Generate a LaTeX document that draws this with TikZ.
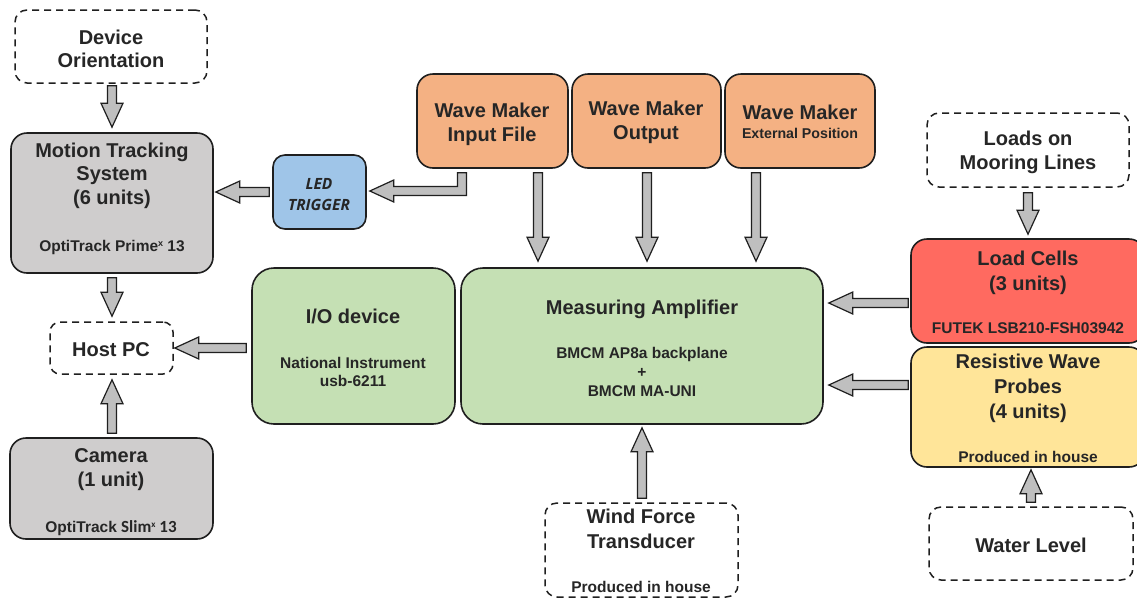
\documentclass[tikz,border=0pt]{standalone}
\usepackage{fontspec}
\setmainfont{Liberation Sans}
\newfontfamily\osans{Open Sans}
\newfontfamily\carlito{Carlito}
\usetikzlibrary{calc}
\definecolor{txt}{HTML}{262626}
\definecolor{edge}{HTML}{1F1F1F}
\definecolor{grayfill}{HTML}{CFCDCD}
\definecolor{greenfill}{HTML}{C5E0B4}
\definecolor{orangefill}{HTML}{F4B183}
\definecolor{redfill}{HTML}{FF6A60}
\definecolor{yellowfill}{HTML}{FFE599}
\definecolor{bluefill}{HTML}{9FC5E8}
\definecolor{arrowfill}{HTML}{BFBFBF}
\tikzset{
  box/.style={draw=edge,line width=1.6pt,rounded corners=16pt,inner sep=0pt},
  dbox/.style={draw=edge,line width=1.5pt,dash pattern=on 7pt off 5pt,rounded corners=12pt,inner sep=0pt},
  big/.style={font=\fontsize{20}{24}\selectfont\bfseries,text=txt,anchor=base,inner sep=0pt},
  small/.style={font=\fontsize{15.5}{18}\selectfont\bfseries,text=txt,anchor=base,inner sep=0pt},
  ledtext/.style={font=\osans\bfseries\itshape\fontsize{15.5}{18}\selectfont,text=txt,anchor=base,inner sep=0pt},
  barrowstyle/.style={fill=arrowfill,draw=edge,line width=1.2pt,line join=miter}
}
\newcommand\blockarrow[2]{%
  \path (#1) coordinate (ba-s);
  \path (#2) coordinate (ba-e);
  \path ($(ba-e)!24pt!(ba-s)$) coordinate (ba-h);
  \filldraw[barrowstyle] ($(ba-s)!4.5pt!90:(ba-e)$) -- ($(ba-h)!4.5pt!90:(ba-e)$)
    -- ($(ba-h)!11pt!90:(ba-e)$) -- (ba-e) -- ($(ba-h)!11pt!-90:(ba-e)$)
    -- ($(ba-h)!4.5pt!-90:(ba-e)$) -- ($(ba-s)!4.5pt!-90:(ba-e)$) -- cycle;
}
\newcommand\supx{\raisebox{5pt}{\fontsize{9}{9}\selectfont x}}
\begin{document}
\begin{tikzpicture}[x=1pt,y=-1pt]
\useasboundingbox[fill=white] (0,0) rectangle (1137,600);

% boxes
\node[dbox,minimum width=192pt,minimum height=73pt] (dev) at (111,46.5) {};
\node[box,fill=grayfill,minimum width=202pt,minimum height=140pt] (mts) at (112,203) {};
\node[box,fill=bluefill,rounded corners=12pt,minimum width=93pt,minimum height=74pt] (led) at (319.5,192) {};
\node[dbox,rounded corners=10pt,minimum width=123pt,minimum height=52pt] (host) at (111.5,348) {};
\node[box,fill=grayfill,minimum width=203pt,minimum height=101pt] (cam) at (111.5,488.5) {};
\node[box,fill=greenfill,rounded corners=22pt,minimum width=203pt,minimum height=156pt] (io) at (353.5,346) {};
\node[box,fill=greenfill,rounded corners=22pt,minimum width=362pt,minimum height=156pt] (ma) at (642,346) {};
\node[box,fill=orangefill,minimum width=151pt,minimum height=94pt] (wm1) at (492.5,121) {};
\node[box,fill=orangefill,minimum width=149pt,minimum height=94pt] (wm2) at (646.5,121) {};
\node[box,fill=orangefill,minimum width=150pt,minimum height=94pt] (wm3) at (800,121) {};
\node[dbox,minimum width=202pt,minimum height=74pt] (load) at (1028,150) {};
\node[box,fill=redfill,minimum width=234pt,minimum height=104pt] (lc) at (1028,291) {};
\node[box,fill=yellowfill,minimum width=234pt,minimum height=120pt] (rwp) at (1028,407) {};
\node[dbox,minimum width=204pt,minimum height=73pt] (wl) at (1031,543.5) {};
\node[dbox,minimum width=193pt,minimum height=94pt] (wft) at (641.5,550) {};

% texts
\node[big] (dev-a) at (111,44) {Device};
\node[big] (dev-b) at (111,67) {Orientation};
\node[big] (mts-a) at (112,157) {Motion Tracking};
\node[big] (mts-b) at (112,180) {System};
\node[big] (mts-c) at (112,204) {(6 units)};
\node[small] (mts-d) at (112,251) {OptiTrack Prime\supx\ 13};
\node[ledtext] (led-a) at (319,189) {LED};
\node[ledtext] (led-b) at (319,210) {TRIGGER};
\node[big] (host-a) at (111,356) {Host PC};
\node[big] (cam-a) at (111,462) {Camera};
\node[big] (cam-b) at (111,486) {(1 unit)};
\node[small] (cam-c) at (111,532) {OptiTrack {\carlito\fontsize{17}{18}\selectfont Slim\supx\ 13}};
\node[big] (io-a) at (353,323) {I/O device};
\node[small] (io-b) at (353,368) {National Instrument};
\node[small] (io-c) at (353,386) {usb-6211};
\node[big] (ma-a) at (642,314) {Measuring Amplifier};
\node[small] (ma-b) at (642,358) {BMCM AP8a backplane};
\node[small] (ma-c) at (642,377) {+};
\node[small] (ma-d) at (642,396) {BMCM MA-UNI};
\node[big] (wm1-a) at (492,117) {Wave Maker};
\node[big] (wm1-b) at (492,141) {Input File};
\node[big] (wm2-a) at (646,115) {Wave Maker};
\node[big] (wm2-b) at (646,139) {Output};
\node[big] (wm3-a) at (800,119) {Wave Maker};
\node[small,font=\fontsize{14.2}{16}\selectfont\bfseries] (wm3-b) at (800,138) {External Position};
\node[big] (load-a) at (1028,145) {Loads on};
\node[big] (load-b) at (1028,169) {Mooring Lines};
\node[big] (lc-a) at (1028,265) {Load Cells};
\node[big] (lc-b) at (1028,290) {(3 units)};
\node[small] (lc-c) at (1028,333) {FUTEK LSB210-FSH03942};
\node[big] (rwp-a) at (1028,368) {Resistive Wave};
\node[big] (rwp-b) at (1028,393) {Probes};
\node[big] (rwp-c) at (1028,418) {(4 units)};
\node[small] (rwp-d) at (1028,462) {Produced in house};
\node[big] (wl-a) at (1031,552) {Water Level};
\node[big] (wft-a) at (641,523) {Wind Force};
\node[big] (wft-b) at (641,548) {Transducer};
\node[small] (wft-c) at (641,592) {Produced in house};

% arrows
\blockarrow{$(mts.north |- dev.south)+(0,2)$}{$(mts.north)+(0,-5)$}
\blockarrow{$(led.west)+(-3,0)$}{$(ba-s -| mts.east)+(2,0)$}
\blockarrow{$(wm1.south)+(45.5,4)$}{$(ba-s |- ma.north)+(0,-6)$}
\blockarrow{$(wm2.south)+(0.5,4)$}{$(ba-s |- ma.north)+(0,-6)$}
\blockarrow{$(wm3.south)+(-44,4)$}{$(ba-s |- ma.north)+(0,-6)$}
\blockarrow{$(mts.south)+(0,4)$}{$(ba-s |- host.north)+(0,-5)$}
\blockarrow{$(cam.north)+(0.5,-4)$}{$(ba-s |- host.south)+(0,5)$}
\blockarrow{$(io.west)+(-5,2)$}{$(host.east)+(1,0)$}
\blockarrow{$(load.south)+(0,5)$}{$(lc.north)+(0,-4)$}
\blockarrow{$(lc.west)+(-2,12)$}{$(ba-s -| ma.east)+(5,0)$}
\blockarrow{$(rwp.west)+(-2,-22)$}{$(ba-s -| ma.east)+(5,0)$}
\blockarrow{$(wl.north)+(0,-4)$}{$(ba-s |- rwp.south)+(0,2)$}
\blockarrow{$(wft.north)+(0.5,-4)$}{$(ba-s |- ma.south)+(0,3)$}

% elbow arrow from input file to LED trigger
\coordinate (k1) at ($(wm1.south)+(-30.5,4)$);
\coordinate (k2) at ($(led.east)+(3,-1)$);
\filldraw[barrowstyle] let \p1=(k1), \p2=(k2) in
  (\x1-4.5pt,\y1) -- (\x1-4.5pt,\y2+4.5pt) -- (\x2+24pt,\y2+4.5pt) -- (\x2+24pt,\y2+11pt)
  -- (\x2,\y2) -- (\x2+24pt,\y2-11pt) -- (\x2+24pt,\y2-4.5pt) -- (\x1+4.5pt,\y2-4.5pt)
  -- (\x1+4.5pt,\y1) -- cycle;
\end{tikzpicture}
\end{document}
